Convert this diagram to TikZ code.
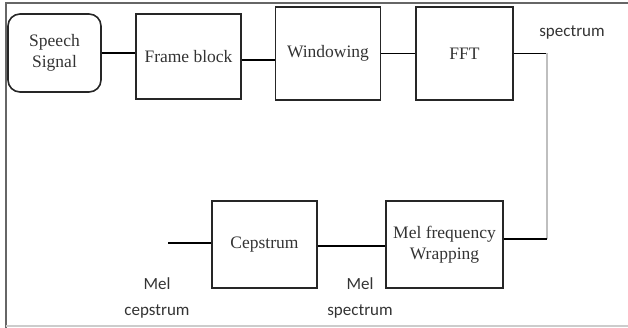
\documentclass[tikz,border=0pt]{standalone}
\usepackage{fontspec}
\setmainfont{Liberation Serif}
\newfontfamily\labelfont{Carlito}
\usetikzlibrary{positioning}
\begin{document}
\begin{tikzpicture}[x=1pt,y=-1pt,
  blk/.style={draw=black!85,line width=1.6pt,inner sep=0pt,align=center,
    text=black!80,font=\fontsize{17.5}{21}\selectfont},
  wire/.style={draw=black,line width=1.3pt},
  greywire/.style={draw=black!25,line width=2pt},
  lbl/.style={align=center,text=black!80,font=\labelfont\fontsize{17}{26}\selectfont}]
  \useasboundingbox (0,0) rectangle (628,328);
  % frame of the figure
  \draw[black!60,line width=2.2pt] (6,328) -- (6,3) -- (628,3);
  \draw[black!20,line width=1.5pt] (6,326) -- (628,326);
  % blocks
  \node[blk,rounded corners=12pt,minimum width=93pt,minimum height=78pt] (speech) at (54.5,53) {Speech\\Signal};
  \node[blk,minimum width=105pt,minimum height=85pt] (frame) at (188.5,56.5) {Frame block};
  \node[blk,minimum width=105pt,minimum height=93pt] (win) at (328,53.5) {Windowing};
  \node[blk,minimum width=97pt,minimum height=93pt] (fft) at (464.5,53.5) {FFT};
  \node[blk,minimum width=117pt,minimum height=87pt] (mel) at (444.5,244.5) {Mel frequency\\Wrapping};
  \node[blk,minimum width=105pt,minimum height=87pt] (cep) at (264.5,244.5) {Cepstrum};
  \coordinate (turnA) at (547,53.5);
  \coordinate (turnB) at (547,239);
  \coordinate (out) at (168,243);
  % connectors
  \draw[wire] (speech.east) -- (speech.east -| frame.west);
  \draw[wire] (frame.east |- 0,60) -- (win.west |- 0,60);
  \draw[wire] (win.east) -- (fft.west);
  \draw[wire] (fft.east) -- (turnA);
  \draw[greywire] (turnA) -- (turnB);
  \draw[wire] (turnB) -- (turnB -| mel.east);
  \draw[wire] (mel.west |- 0,246) -- (cep.east |- 0,246);
  \draw[wire] (out) -- (out -| cep.west);
  % labels
  \node[lbl] (spec) at (572,32) {spectrum};
  \node[lbl] (melcep) at (157,298) {Mel\\cepstrum};
  \node[lbl] (melspec) at (360,298) {Mel\\spectrum};
\end{tikzpicture}
\end{document}
